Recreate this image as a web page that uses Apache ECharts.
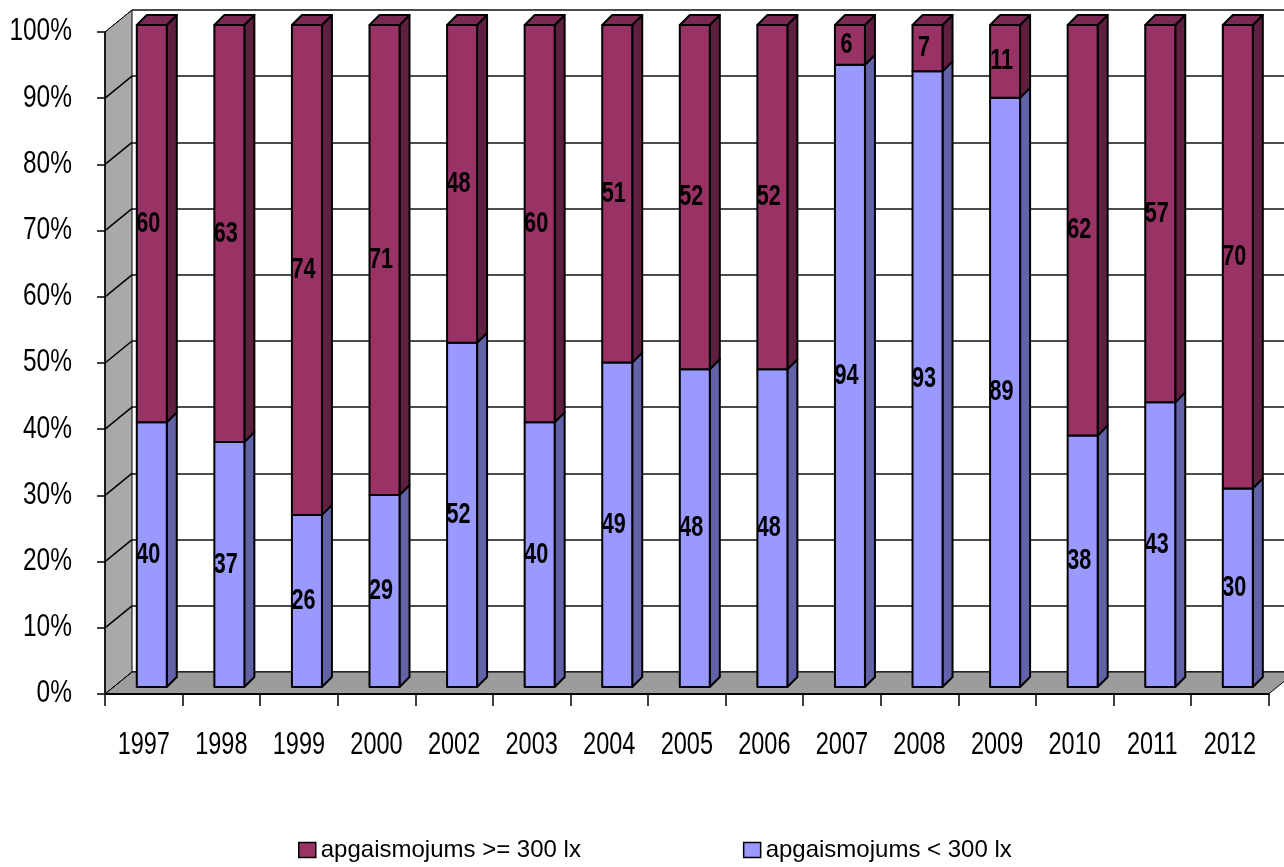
<!DOCTYPE html>
<html>
<head>
<meta charset="utf-8">
<script src="https://cdn.jsdelivr.net/npm/echarts@6.0.0/dist/echarts.min.js"></script>
<style>
  html, body { margin: 0; padding: 0; background: #ffffff; }
  #chart { width: 1284px; height: 867px; }
</style>
</head>
<body>
<div id="chart"></div>
<script>
// Survey years
const years = ['1997', '1998', '1999', '2000', '2002', '2003', '2004', '2005',
               '2006', '2007', '2008', '2009', '2010', '2011', '2012'];
// Share of workplaces with illuminance below 300 lx (%)
const below300 = [40, 37, 26, 29, 52, 40, 49, 48, 48, 94, 93, 89, 38, 43, 30];
// Share of workplaces with illuminance of 300 lx or more (%)
const atLeast300 = [60, 63, 74, 71, 48, 60, 51, 52, 52, 6, 7, 11, 62, 57, 70];
// Value axis ticks (%)
const percentTicks = [0, 10, 20, 30, 40, 50, 60, 70, 80, 90, 100];

const nameHigh = 'apgaismojums >= 300 lx';
const nameLow = 'apgaismojums < 300 lx';

const FONT = '"Liberation Sans", Arial, sans-serif';

// perspective offsets
const WALL_DX = 27, WALL_DY = -22;   // depth of the walls / floor
const BAR_D = 10;                    // depth of each bar
const BAR_W = 30;                    // front-face width of each bar

const chart = echarts.init(document.getElementById('chart'), null, { renderer: 'canvas' });

// front plane (axes), bar plane, back plane (wall gridlines)
const PLOT_W = 1163.6, PLOT_H = 662;
const grids = [
  { left: 105, top: 32, width: PLOT_W, height: PLOT_H },
  { left: 113, top: 25, width: PLOT_W, height: PLOT_H },
  { left: 132, top: 10, width: PLOT_W, height: PLOT_H }
];

// tall, slightly condensed text used for all chart labels
function tallText(x, y, text, align, size, weight, sx, sy) {
  return { type: 'text', x: x, y: y, scaleX: sx, scaleY: sy,
    style: { text: text, align: align, verticalAlign: 'middle',
             font: weight + ' ' + size + 'px ' + FONT, fill: '#000000' } };
}

function barSegment(front, side, top, withTop) {
  return function (params, api) {
    const i = api.value(0);
    const start = api.value(1);
    const end = api.value(2);
    const shown = api.value(3);
    const pb = api.coord([i, start]);
    const pt = api.coord([i, end]);
    const x0 = pb[0] - BAR_W / 2, x1 = pb[0] + BAR_W / 2;
    const yb = pb[1], yt = pt[1];
    const stroke = { stroke: '#000000', lineWidth: 2, lineJoin: 'round' };
    const children = [
      { type: 'polygon', shape: { points: [[x1, yt], [x1 + BAR_D, yt - BAR_D], [x1 + BAR_D, yb - BAR_D], [x1, yb]] },
        style: Object.assign({ fill: side }, stroke) },
      { type: 'rect', shape: { x: x0, y: yt, width: BAR_W, height: yb - yt },
        style: Object.assign({ fill: front }, stroke) }
    ];
    if (withTop) {
      children.push({ type: 'polygon',
        shape: { points: [[x0, yt], [x0 + BAR_D, yt - BAR_D], [x1 + BAR_D, yt - BAR_D], [x1, yt]] },
        style: Object.assign({ fill: top }, stroke) });
    }
    children.push(tallText(pb[0] - 3.5, (yt + yb) / 2, String(shown), 'center', 21, 'bold', 1.03, 1.38));
    return { type: 'group', children: children };
  };
}

// gray left wall and floor, with depth lines at each tick
function wallAndFloor(params, api) {
  const cs = params.coordSys;
  const x = cs.x, y = cs.y, w = cs.width, h = cs.height;
  const children = [
    { type: 'polygon', shape: { points: [[x, y], [x + WALL_DX, y + WALL_DY], [x + WALL_DX, y + h + WALL_DY], [x, y + h]] },
      style: { fill: '#a9a9a9', stroke: '#000000', lineWidth: 1 } },
    { type: 'polygon', shape: { points: [[x, y + h], [x + WALL_DX, y + h + WALL_DY], [x + w + WALL_DX, y + h + WALL_DY], [x + w, y + h]] },
      style: { fill: '#9c9c9c', stroke: '#000000', lineWidth: 1 } }
  ];
  percentTicks.forEach(function (v) {
    const yy = api.coord([0, v])[1];
    const edge = (v === 0 || v === 100);
    children.push({ type: 'line', shape: { x1: x, y1: yy, x2: x + WALL_DX, y2: yy + WALL_DY },
      style: { stroke: '#000000', lineWidth: edge ? 1 : 1.5, lineDash: edge ? [3, 2] : null } });
  });
  return { type: 'group', children: children };
}

// category labels under the front axis
function yearLabel(params, api) {
  const i = api.value(0);
  const p = api.coord([i, 0]);
  return tallText(p[0], p[1] + 51.5, years[i], 'center', 24, 'normal', 0.98, 1.34);
}

// percent labels left of the value axis
function percentLabel(params, api) {
  const v = api.value(1);
  const p = api.coord([0, v]);
  return tallText(params.coordSys.x - 33, p[1], v + '%', 'right', 24, 'normal', 1.02, 1.28);
}

const lowData = years.map(function (y, i) { return [i, 0, below300[i], below300[i]]; });
const highData = years.map(function (y, i) {
  return [i, below300[i], below300[i] + atLeast300[i], atLeast300[i]];
});

const option = {
  animation: false,
  backgroundColor: '#ffffff',
  grid: grids,
  xAxis: [
    { type: 'category', gridIndex: 0, data: years, z: 10,
      axisLine: { show: true, lineStyle: { color: '#000000', width: 2 } },
      axisTick: { show: true, interval: 0, length: 12, lineStyle: { color: '#000000', width: 1.5 } },
      axisLabel: { show: false },
      splitLine: { show: false } },
    { type: 'category', gridIndex: 1, data: years, show: false },
    { type: 'category', gridIndex: 2, data: years, show: false }
  ],
  yAxis: [
    { type: 'value', gridIndex: 0, min: 0, max: 100, interval: 10, z: 10,
      axisLine: { show: true, lineStyle: { color: '#000000', width: 1.5 } },
      axisTick: { show: true, length: 8, lineStyle: { color: '#000000', width: 1.5 } },
      axisLabel: { show: false },
      splitLine: { show: false } },
    { type: 'value', gridIndex: 1, min: 0, max: 100, interval: 10, show: false, splitLine: { show: false } },
    { type: 'value', gridIndex: 2, min: 0, max: 100, interval: 10,
      axisLine: { show: false }, axisTick: { show: false }, axisLabel: { show: false },
      splitLine: { show: true, lineStyle: { color: '#111111', width: 1.6 } } }
  ],
  legend: {
    data: [nameHigh, nameLow],
    left: 298, top: 838, padding: 0,
    icon: 'rect', itemWidth: 17, itemHeight: 15, itemGap: 162,
    itemStyle: { borderColor: '#000000', borderWidth: 1.5 },
    textStyle: { color: '#000000', fontFamily: FONT, fontSize: 24 }
  },
  series: [
    { type: 'custom', name: 'wall', xAxisIndex: 0, yAxisIndex: 0, z: 1,
      silent: true, renderItem: wallAndFloor, data: [[0, 0]] },
    { type: 'custom', name: 'years', xAxisIndex: 0, yAxisIndex: 0, z: 10, silent: true,
      renderItem: yearLabel, data: years.map(function (y, i) { return [i, 0]; }) },
    { type: 'custom', name: 'percent', xAxisIndex: 0, yAxisIndex: 0, z: 10, silent: true,
      renderItem: percentLabel, data: percentTicks.map(function (v) { return [0, v]; }) },
    { type: 'custom', name: nameLow, xAxisIndex: 1, yAxisIndex: 1, z: 5,
      itemStyle: { color: '#9999ff' },
      renderItem: barSegment('#9999ff', '#6262a9', '#7f7fd4', false), data: lowData },
    { type: 'custom', name: nameHigh, xAxisIndex: 1, yAxisIndex: 1, z: 5,
      itemStyle: { color: '#993366' },
      renderItem: barSegment('#993366', '#5f2040', '#7a2952', true), data: highData }
  ]
};

chart.setOption(option);
</script>
</body>
</html>
